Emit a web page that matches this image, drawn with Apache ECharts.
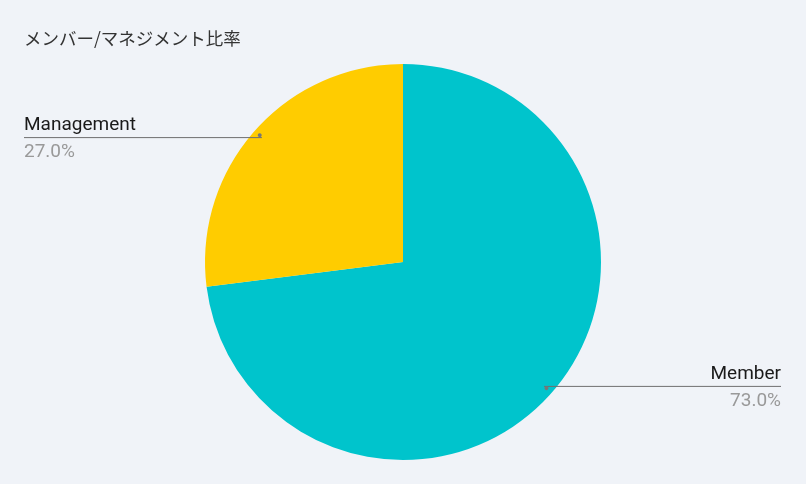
<!DOCTYPE html>
<html>
<head>
<meta charset="utf-8">
<script src="https://cdn.jsdelivr.net/npm/echarts@6/dist/echarts.min.js"></script>
<style>
html,body{margin:0;padding:0;background:#f0f3f8;}
#c{width:806px;height:484px;}
</style>
</head>
<body>
<div id="c"></div>
<script>
const titleText = 'メンバー/マネジメント比率';
const categories = ['Member', 'Management'];
const values = [73.0, 27.0];
const colors = ['#00c4cc', '#ffcc00'];

const chart = echarts.init(document.getElementById('c'));
const CX = 403, CY = 262, R = 198;
const data = categories.map((c, i) => ({ name: c, value: values[i], itemStyle: { color: colors[i] } }));
const plain = categories.map((c, i) => ({ name: c, value: values[i] }));

chart.setOption({
  backgroundColor: '#f0f3f8',
  title: {
    text: titleText, left: 19, top: 25,
    textStyle: { fontFamily: 'Noto Sans CJK JP', fontSize: 17.5, fontWeight: 'normal', color: '#333' }
  },
  series: [{
    type: 'pie',
    center: [CX, CY],
    radius: R,
    startAngle: 90,
    clockwise: true,
    animation: false,
    silent: true,
    data: data,
    label: { show: false },
    labelLine: { show: false }
  }, {
    type: 'pie',
    center: [CX, CY],
    radius: R,
    startAngle: 90,
    clockwise: true,
    animation: false,
    silent: true,
    z: 5,
    data: plain,
    itemStyle: { color: 'rgba(0,0,0,0)' },
    label: {
      show: true,
      formatter: p => '{n|' + p.name + '}\n{v|' + p.value.toFixed(1) + '%}',
      rich: {
        n: { fontFamily: 'Roboto', fontSize: 19, color: '#1a1a1a', lineHeight: 27 },
        v: { fontFamily: 'Roboto', fontSize: 19, color: '#999', lineHeight: 27 }
      }
    },
    labelLine: { show: true, length: 10, length2: 10, lineStyle: { color: '#6f6f6f', width: 1 } },
    labelLayout: function (params) {
      const pts = params.labelLinePoints;
      if (!pts) return {};
      const p0 = pts[0];
      const sx = CX + (p0[0] - CX) * 0.95;
      const sy = CY + (p0[1] - CY) * 0.95;
      const isLeft = sx < CX;
      const endX = isLeft ? 24 : chart.getWidth() - 25;
      return {
        x: endX, y: sy + 1,
        align: isLeft ? 'left' : 'right',
        verticalAlign: 'middle',
        labelLinePoints: [[sx, sy], [sx, sy], [endX, sy]]
      };
    }
  }, {
    type: 'pie',
    center: [CX, CY],
    radius: [R * 0.93, R * 0.97],
    startAngle: 90,
    clockwise: true,
    animation: false,
    silent: true,
    z: 6,
    data: plain,
    itemStyle: { color: 'rgba(0,0,0,0)' },
    label: { show: true, position: 'inside', formatter: '●', fontSize: 9, color: '#777' },
    labelLine: { show: false }
  }]
});
</script>
</body>
</html>
